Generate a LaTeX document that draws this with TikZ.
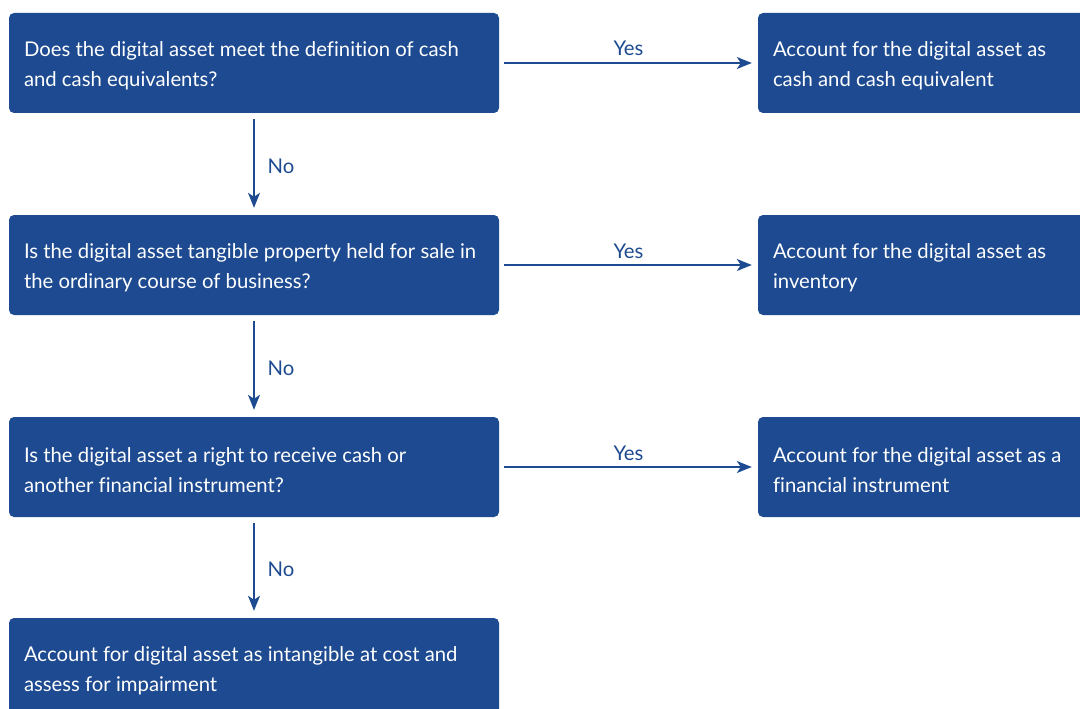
\documentclass[tikz,border=0pt]{standalone}
\usepackage{fontspec}
\setmainfont{Lato}[Ligatures=NoCommon]
\usetikzlibrary{arrows.meta}
\definecolor{boxblue}{HTML}{1D4A90}
\begin{document}
\begin{tikzpicture}[x=1pt,y=-1pt,
  box/.style={fill=boxblue, draw=none, rounded corners=5pt, minimum width=490pt, minimum height=100pt, inner sep=0pt},
  txt/.style={anchor=west, align=left, text=white, inner sep=0pt, font=\fontsize{20.3}{30}\selectfont},
  conn/.style={draw=boxblue, line width=1.4pt, -{Stealth[length=15pt,width=12pt,inset=4pt]}},
  lbl/.style={text=boxblue, font=\fontsize{20.3}{24}\selectfont, inner sep=0pt}]
\useasboundingbox (0,0) rectangle (1080,709);
\begin{scope}
\clip (0,0) rectangle (1080,709);
\node[box] (q1) at (254,63) {};
\node[box] (q2) at (254,265) {};
\node[box] (q3) at (254,467) {};
\node[box] (q4) at (254,668) {};
\node[box] (a1) at (1003,63) {};
\node[box] (a2) at (1003,265) {};
\node[box] (a3) at (1003,467) {};
\node[txt] (q1t) at ([xshift=15pt,yshift=-3pt]q1.west) {Does the digital asset meet the definition of cash\\and cash equivalents?};
\node[txt] (q2t) at ([xshift=15pt,yshift=-3pt]q2.west) {Is the digital asset tangible property held for sale in\\the ordinary course of business?};
\node[txt] (q3t) at ([xshift=15pt,yshift=-3pt]q3.west) {Is the digital asset a right to receive cash or\\another financial instrument?};
\node[txt] (q4t) at ([xshift=15pt,yshift=-3pt]q4.west) {Account for digital asset as intangible at cost and\\assess for impairment};
\node[txt] (a1t) at ([xshift=15pt,yshift=-3pt]a1.west) {Account for the digital asset as\\cash and cash equivalent};
\node[txt] (a2t) at ([xshift=15pt,yshift=-3pt]a2.west) {Account for the digital asset as\\inventory};
\node[txt] (a3t) at ([xshift=15pt,yshift=-3pt]a3.west) {Account for the digital asset as a\\financial instrument};
\end{scope}
\draw[conn, shorten <=5pt, shorten >=6pt] (q1.east) -- node[lbl, above=7pt] (y1) {Yes} (a1.west);
\draw[conn, shorten <=5pt, shorten >=6pt] (q2.east) -- node[lbl, above=6pt] (y2) {Yes} (a2.west);
\draw[conn, shorten <=5pt, shorten >=6pt] (q3.east) -- node[lbl, above=6pt] (y3) {Yes} (a3.west);
\draw[conn, shorten <=6pt, shorten >=7pt] (q1.south) -- node[lbl, right=13pt, yshift=-2pt] (n1) {No} (q2.north);
\draw[conn, shorten <=6pt, shorten >=7pt] (q2.south) -- node[lbl, right=13pt, yshift=-2pt] (n2) {No} (q3.north);
\draw[conn, shorten <=6pt, shorten >=7pt] (q3.south) -- node[lbl, right=13pt, yshift=-2pt] (n3) {No} (q4.north);
\end{tikzpicture}
\end{document}
